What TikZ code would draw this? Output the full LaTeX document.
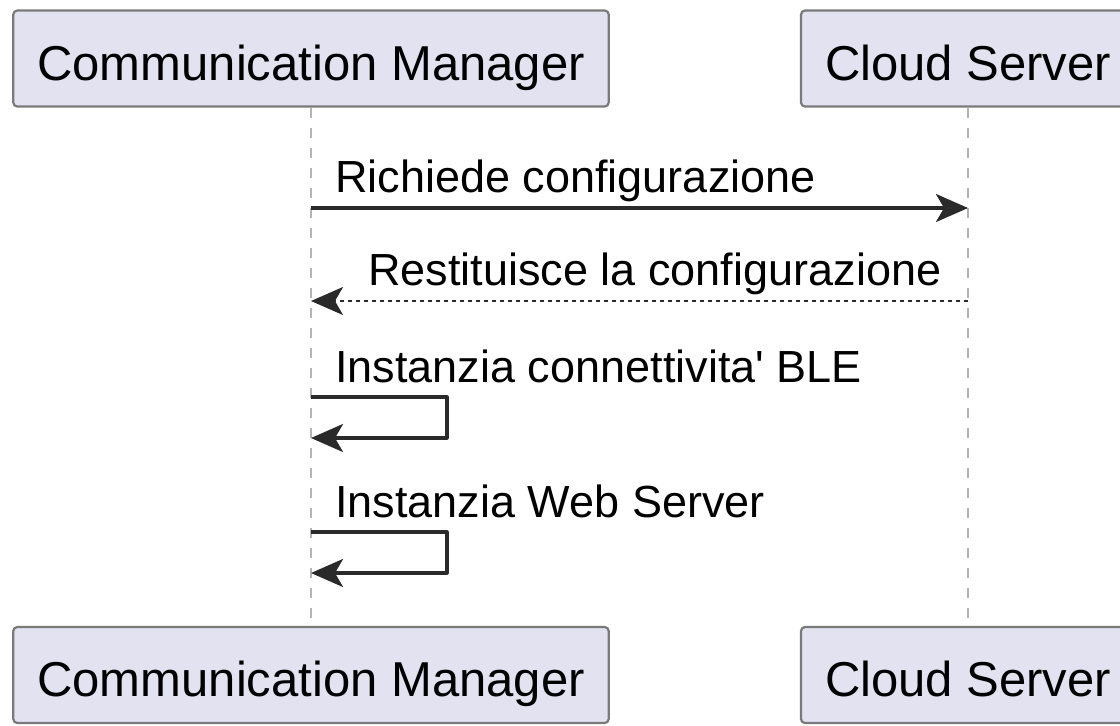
\documentclass[tikz,border=0pt]{standalone}
\usepackage{fontspec}
\setmainfont{Liberation Sans}
\usetikzlibrary{arrows.meta}
\definecolor{partfill}{HTML}{E2E2F0}
\definecolor{partline}{HTML}{7A7A7A}
\definecolor{msgline}{HTML}{2A2A2A}
\definecolor{lifegray}{HTML}{B4B4B4}

\begin{document}
\begin{tikzpicture}[x=0.5pt, y=0.5pt, line join=round,
    participant/.style={draw=partline, fill=partfill, line width=1.1pt, rounded corners=2pt,
      minimum height=48pt, inner xsep=12pt, text height=23pt, text depth=1.5pt,
      font=\fontsize{24.5}{29}\selectfont},
    life/.style={draw=lifegray, line width=1.3pt, dash pattern=on 5pt off 5pt},
    msg/.style={draw=msgline, line width=1.6pt, -{Stealth[length=16pt, width=14pt, inset=4pt]}},
    reply/.style={msg, line width=1.1pt, dash pattern=on 2pt off 2pt},
    msglabel/.style={anchor=base west, inner sep=0pt, font=\fontsize{22.5}{27}\selectfont}]

    \useasboundingbox (0,0) rectangle (1120,-725);

    % participants
    \node[participant] (cmTop) at (311,-58.5) {Communication Manager};
    \node[participant] (csTop) at (968,-58.5) {Cloud Server};
    \node[participant] (cmBot) at (311,-675) {Communication Manager};
    \node[participant] (csBot) at (968,-675) {Cloud Server};

    % lifelines
    \draw[life] (cmTop) -- (cmBot);
    \draw[life] (csTop) -- (csBot);

    % messages
    \draw[msg] (cmTop |- 0,-208) -- (csTop |- 0,-208);
    \node[msglabel] (lblAsk) at (335,-192) {Richiede configurazione};

    \draw[reply] (csTop |- 0,-301) -- (cmTop |- 0,-301);
    \node[msglabel] (lblBack) at (368,-285) {Restituisce la configurazione};

    \node[msglabel] (lblBle) at (335,-382) {Instanzia connettivita\textquotesingle{} BLE};
    \draw[msg] (cmTop |- 0,-397) -| (447,-438) -- (cmTop |- 0,-438);

    \node[msglabel] (lblWeb) at (335,-517) {Instanzia Web Server};
    \draw[msg] (cmTop |- 0,-532) -| (447,-573) -- (cmTop |- 0,-573);

\end{tikzpicture}
\end{document}
